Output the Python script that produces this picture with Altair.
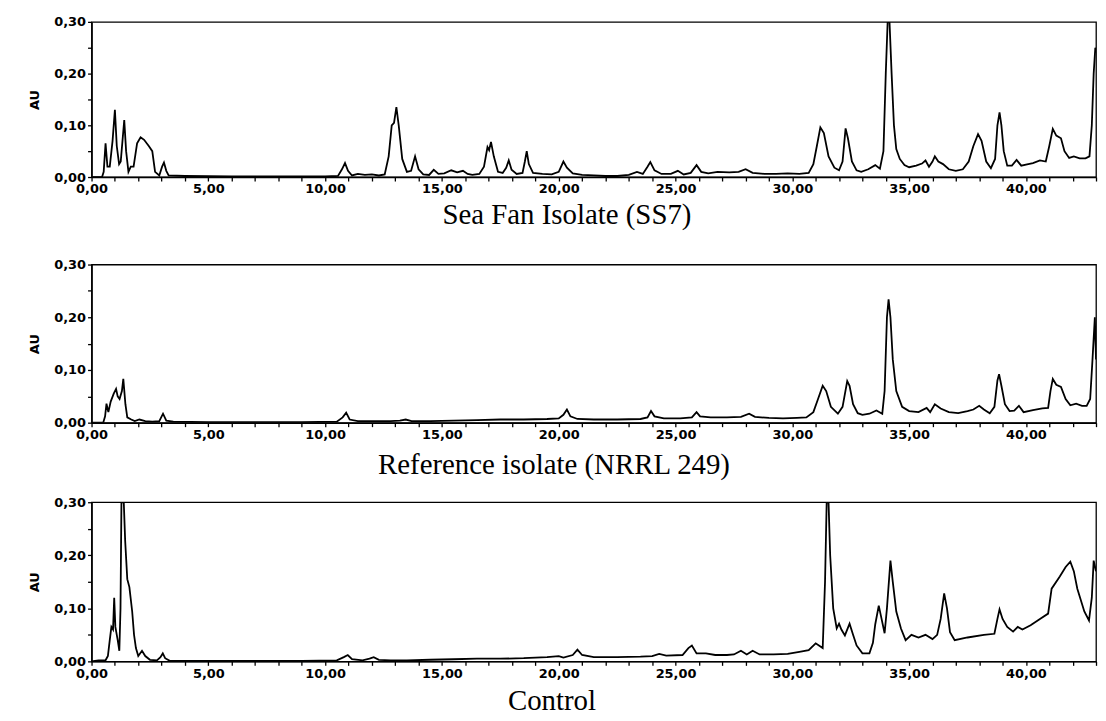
import altair as alt
import pandas as pd

# (retention time in min, absorbance AU)
ss7_points = [
    (0.0, 0.0), (0.45, 0.0), (0.52, 0.01), (0.6, 0.065), (0.68, 0.02), (0.78, 0.02), (0.9, 0.07),
    (1.0, 0.13), (1.08, 0.06), (1.18, 0.025), (1.25, 0.03), (1.4, 0.11), (1.48, 0.05), (1.58, 0.01),
    (1.68, 0.02), (1.8, 0.02), (1.95, 0.065), (2.1, 0.077), (2.25, 0.072), (2.45, 0.06), (2.6, 0.05),
    (2.72, 0.01), (2.9, 0.003), (3.02, 0.02), (3.1, 0.028), (3.2, 0.012), (3.3, 0.003), (4.0, 0.002),
    (6.0, 0.001), (8.0, 0.001), (10.0, 0.001), (10.55, 0.002), (10.72, 0.015), (10.85, 0.027),
    (10.98, 0.012), (11.15, 0.003), (11.4, 0.006), (11.7, 0.004), (12.0, 0.005), (12.3, 0.003),
    (12.55, 0.005), (12.72, 0.04), (12.85, 0.1), (12.95, 0.105), (13.05, 0.135), (13.15, 0.1),
    (13.3, 0.035), (13.5, 0.01), (13.68, 0.012), (13.85, 0.04), (14.0, 0.015), (14.2, 0.005),
    (14.45, 0.004), (14.65, 0.014), (14.85, 0.006), (15.1, 0.007), (15.4, 0.013), (15.65, 0.009),
    (15.9, 0.012), (16.1, 0.006), (16.3, 0.004), (16.6, 0.006), (16.8, 0.02), (16.95, 0.058),
    (17.02, 0.052), (17.1, 0.068), (17.22, 0.04), (17.4, 0.01), (17.6, 0.008), (17.75, 0.018),
    (17.86, 0.032), (17.98, 0.014), (18.2, 0.006), (18.45, 0.008), (18.55, 0.03), (18.63, 0.05),
    (18.72, 0.025), (18.9, 0.008), (19.3, 0.006), (19.7, 0.005), (20.0, 0.01), (20.2, 0.03),
    (20.35, 0.018), (20.6, 0.007), (21.0, 0.004), (21.5, 0.003), (22.0, 0.002), (22.5, 0.002),
    (23.0, 0.004), (23.35, 0.01), (23.6, 0.006), (23.8, 0.02), (23.92, 0.029), (24.1, 0.013),
    (24.4, 0.006), (24.8, 0.006), (25.1, 0.012), (25.35, 0.005), (25.65, 0.008), (25.9, 0.023),
    (26.1, 0.01), (26.4, 0.007), (26.8, 0.01), (27.3, 0.009), (27.7, 0.01), (28.0, 0.015),
    (28.3, 0.008), (28.8, 0.006), (29.3, 0.006), (29.8, 0.007), (30.3, 0.006), (30.7, 0.008),
    (30.9, 0.025), (31.05, 0.06), (31.2, 0.096), (31.35, 0.085), (31.55, 0.04), (31.8, 0.018),
    (32.0, 0.013), (32.15, 0.03), (32.28, 0.094), (32.38, 0.075), (32.55, 0.03), (32.75, 0.013),
    (32.95, 0.01), (33.25, 0.015), (33.55, 0.023), (33.75, 0.016), (33.9, 0.05), (34.0, 0.2),
    (34.08, 0.3), (34.16, 0.3), (34.25, 0.2), (34.35, 0.1), (34.45, 0.054), (34.6, 0.035),
    (34.8, 0.023), (35.0, 0.019), (35.3, 0.022), (35.55, 0.026), (35.7, 0.032), (35.85, 0.02),
    (36.0, 0.03), (36.1, 0.04), (36.25, 0.03), (36.45, 0.025), (36.7, 0.015), (37.0, 0.012),
    (37.3, 0.015), (37.55, 0.03), (37.75, 0.06), (37.95, 0.083), (38.1, 0.07), (38.3, 0.03),
    (38.5, 0.017), (38.68, 0.035), (38.78, 0.1), (38.87, 0.125), (38.95, 0.1), (39.05, 0.05),
    (39.2, 0.022), (39.4, 0.022), (39.6, 0.033), (39.8, 0.022), (40.0, 0.024), (40.3, 0.027),
    (40.6, 0.032), (40.85, 0.03), (41.0, 0.06), (41.15, 0.093), (41.3, 0.08), (41.5, 0.075),
    (41.65, 0.05), (41.85, 0.037), (42.05, 0.04), (42.3, 0.036), (42.55, 0.036), (42.72, 0.04),
    (42.82, 0.1), (42.9, 0.2), (42.97, 0.25), (43.0, 0.24),
]

nrrl_points = [
    (0.0, 0.0), (0.5, 0.0), (0.58, 0.012), (0.64, 0.036), (0.72, 0.02), (0.82, 0.04), (0.95, 0.055),
    (1.05, 0.064), (1.12, 0.05), (1.2, 0.045), (1.3, 0.06), (1.36, 0.083), (1.45, 0.035), (1.53, 0.01),
    (1.7, 0.006), (1.85, 0.003), (2.05, 0.006), (2.3, 0.003), (2.6, 0.002), (2.9, 0.003), (3.06, 0.017),
    (3.2, 0.004), (3.5, 0.002), (5.0, 0.001), (7.0, 0.001), (9.0, 0.001), (10.5, 0.002), (10.75, 0.01),
    (10.9, 0.019), (11.05, 0.006), (11.4, 0.003), (12.0, 0.003), (12.8, 0.003), (13.2, 0.004),
    (13.45, 0.006), (13.7, 0.003), (14.5, 0.003), (15.5, 0.004), (16.5, 0.005), (17.5, 0.006),
    (18.5, 0.006), (19.5, 0.007), (20.0, 0.008), (20.2, 0.015), (20.35, 0.025), (20.5, 0.012),
    (20.8, 0.007), (21.5, 0.006), (22.5, 0.006), (23.5, 0.007), (23.8, 0.01), (23.95, 0.022),
    (24.1, 0.012), (24.5, 0.008), (25.2, 0.008), (25.7, 0.01), (25.9, 0.02), (26.05, 0.012),
    (26.5, 0.01), (27.2, 0.01), (27.8, 0.011), (28.15, 0.017), (28.4, 0.011), (29.0, 0.009),
    (29.6, 0.008), (30.2, 0.009), (30.6, 0.01), (30.9, 0.02), (31.1, 0.045), (31.3, 0.07),
    (31.45, 0.06), (31.65, 0.03), (31.95, 0.017), (32.15, 0.03), (32.35, 0.079), (32.45, 0.07),
    (32.6, 0.035), (32.8, 0.018), (33.0, 0.015), (33.3, 0.017), (33.6, 0.023), (33.85, 0.017),
    (33.95, 0.06), (34.05, 0.2), (34.12, 0.234), (34.2, 0.2), (34.3, 0.12), (34.45, 0.06),
    (34.7, 0.03), (35.0, 0.022), (35.4, 0.02), (35.75, 0.028), (35.9, 0.02), (36.1, 0.035),
    (36.35, 0.027), (36.7, 0.02), (37.1, 0.018), (37.5, 0.022), (37.75, 0.025), (38.0, 0.032),
    (38.2, 0.025), (38.45, 0.018), (38.65, 0.03), (38.78, 0.08), (38.85, 0.092), (38.95, 0.07),
    (39.1, 0.035), (39.3, 0.022), (39.5, 0.023), (39.7, 0.032), (39.9, 0.02), (40.3, 0.024),
    (40.7, 0.027), (40.95, 0.028), (41.05, 0.06), (41.15, 0.083), (41.3, 0.072), (41.5, 0.068),
    (41.7, 0.045), (41.9, 0.033), (42.15, 0.036), (42.4, 0.032), (42.6, 0.032), (42.75, 0.045),
    (42.85, 0.12), (42.95, 0.2), (43.0, 0.12),
]

control_points = [
    (0.0, 0.0), (0.3, 0.002), (0.6, 0.002), (0.7, 0.01), (0.78, 0.04), (0.85, 0.065), (0.92, 0.06),
    (0.97, 0.12), (1.02, 0.065), (1.12, 0.04), (1.19, 0.02), (1.24, 0.1), (1.28, 0.3), (1.38, 0.3),
    (1.44, 0.227), (1.53, 0.155), (1.62, 0.14), (1.74, 0.094), (1.82, 0.05), (1.9, 0.025), (2.0, 0.01),
    (2.16, 0.02), (2.3, 0.01), (2.5, 0.003), (2.8, 0.002), (2.95, 0.008), (3.05, 0.015), (3.15, 0.006),
    (3.35, 0.001), (5.0, 0.001), (7.0, 0.001), (9.0, 0.001), (10.5, 0.002), (10.8, 0.008),
    (10.97, 0.012), (11.15, 0.004), (11.6, 0.002), (11.9, 0.005), (12.08, 0.008), (12.3, 0.003),
    (12.8, 0.002), (13.5, 0.002), (14.5, 0.003), (15.5, 0.004), (16.5, 0.005), (17.5, 0.005),
    (18.5, 0.006), (19.5, 0.008), (20.0, 0.01), (20.2, 0.007), (20.6, 0.012), (20.8, 0.022),
    (21.0, 0.012), (21.5, 0.008), (22.5, 0.008), (23.5, 0.009), (24.0, 0.01), (24.3, 0.014),
    (24.6, 0.011), (25.3, 0.012), (25.55, 0.025), (25.7, 0.03), (25.9, 0.015), (26.3, 0.015),
    (26.7, 0.012), (27.2, 0.012), (27.5, 0.013), (27.8, 0.02), (28.05, 0.013), (28.3, 0.02),
    (28.6, 0.013), (29.2, 0.013), (29.8, 0.014), (30.3, 0.018), (30.7, 0.021), (31.0, 0.034),
    (31.3, 0.025), (31.4, 0.15), (31.47, 0.3), (31.55, 0.3), (31.62, 0.2), (31.75, 0.1),
    (31.9, 0.062), (32.0, 0.071), (32.1, 0.06), (32.25, 0.049), (32.45, 0.071), (32.6, 0.05),
    (32.75, 0.03), (33.0, 0.015), (33.3, 0.015), (33.45, 0.035), (33.55, 0.07), (33.7, 0.105),
    (33.82, 0.08), (33.95, 0.053), (34.05, 0.1), (34.2, 0.19), (34.3, 0.15), (34.45, 0.094),
    (34.65, 0.062), (34.85, 0.04), (35.1, 0.05), (35.4, 0.045), (35.7, 0.05), (36.0, 0.042),
    (36.2, 0.05), (36.35, 0.08), (36.5, 0.128), (36.62, 0.1), (36.75, 0.055), (36.95, 0.04),
    (37.5, 0.045), (38.2, 0.05), (38.65, 0.052), (38.78, 0.08), (38.87, 0.098), (39.0, 0.08),
    (39.2, 0.065), (39.45, 0.056), (39.65, 0.065), (39.85, 0.06), (40.2, 0.068), (40.6, 0.08),
    (40.95, 0.09), (41.1, 0.137), (41.45, 0.16), (41.7, 0.178), (41.9, 0.188), (42.05, 0.17),
    (42.2, 0.137), (42.5, 0.094), (42.7, 0.077), (42.82, 0.12), (42.9, 0.19), (43.0, 0.17),
]

panel_titles = ["Sea Fan Isolate (SS7)", "Reference isolate (NRRL 249)", "Control"]
panel_heights = [156, 159, 160]
panel_title_dx = [-27, -40, -42]
panel_title_offset = [5, 10, 7]
x_tick_values = list(range(0, 44))
y_tick_values = [0.0, 0.05, 0.10, 0.15, 0.20, 0.25, 0.30]

X_LABELS = "datum.value % 5 == 0 ? replace(format(datum.value, '.2f'), '.', ',') : ''"
Y_LABELS = "round(datum.value * 100) % 10 == 0 ? replace(format(datum.value, '.2f'), '.', ',') : ''"


def panel(points, title, height, dx, offset):
    df = pd.DataFrame(points, columns=["t", "au"])
    return (
        alt.Chart(df)
        .mark_line(color="black", strokeWidth=1.8, clip=True)
        .encode(
            x=alt.X(
                "t:Q",
                scale=alt.Scale(domain=[0, 43], nice=False, zero=False),
                axis=alt.Axis(
                    values=x_tick_values, labelExpr=X_LABELS, title=None,
                    labelOverlap=False, labelFlush=False, tickSize=4,
                ),
            ),
            y=alt.Y(
                "au:Q",
                scale=alt.Scale(domain=[0, 0.3], nice=False),
                axis=alt.Axis(
                    values=y_tick_values, labelExpr=Y_LABELS, title="AU",
                    labelOverlap=False, labelFlush=False, tickSize=4, titlePadding=12,
                ),
            ),
        )
        .properties(
            width=1010,
            height=height,
            title=alt.TitleParams(
                title, orient="bottom", font="Liberation Serif", fontSize=29,
                fontWeight="normal", color="black", offset=offset, dx=dx,
            ),
        )
    )


p1, p2, p3 = [
    panel(p, t, h, d, o)
    for p, t, h, d, o in zip(
        [ss7_points, nrrl_points, control_points], panel_titles, panel_heights,
        panel_title_dx, panel_title_offset,
    )
]

chart = (
    alt.vconcat(p1, alt.vconcat(p2, p3, spacing=14), spacing=27)
    .properties(padding={"left": 20, "top": 5, "right": 0, "bottom": 0})
    .configure_view(stroke="black", strokeWidth=1.3)
    .configure_axis(
        grid=False, domainColor="black", domainWidth=1.5, tickColor="black", tickWidth=1.3,
        labelFont="DejaVu Sans", labelFontWeight="bold", labelFontSize=13, labelColor="black",
        labelPadding=2, titleFont="DejaVu Sans", titleFontWeight="bold", titleFontSize=13,
        titleColor="black",
    )
    .configure_title(anchor="middle")
)

chart.save("out.html", embed_options={"renderer": "svg", "actions": False})
